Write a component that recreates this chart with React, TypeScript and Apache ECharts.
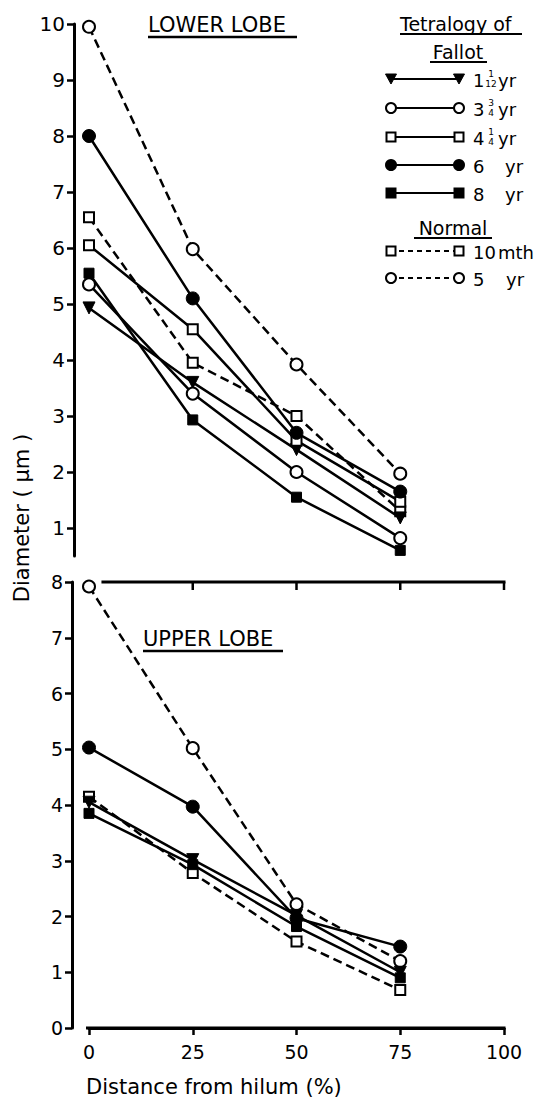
import React, { useEffect, useRef } from "react";
import * as echarts from "echarts";

// Distance from hilum (%)
const distances = [0, 25, 50, 75];
const xTicks = [0, 25, 50, 75, 100];
const panelTopTicks = [25, 50, 75, 100];

// LOWER LOBE diameters (μm)
const lowerF1 = [4.93, 3.6, 2.4, 1.18]; // Tetralogy 1 1/12 yr
const lowerF3 = [5.35, 3.4, 2.0, 0.82]; // 3 3/4 yr
const lowerF4 = [6.05, 4.55, 2.56, 1.47]; // 4 1/4 yr
const lowerF6 = [8.0, 5.1, 2.7, 1.65]; // 6 yr
const lowerF8 = [5.55, 2.93, 1.55, 0.6]; // 8 yr
const lowerN10 = [6.55, 3.95, 3.0, 1.3]; // Normal 10 mth
const lowerN5 = [9.95, 5.98, 3.92, 1.97]; // Normal 5 yr

// UPPER LOBE diameters (μm)
const upperF1 = [4.05, 3.02, 2.02, 1.0];
const upperF6 = [5.03, 3.97, 1.97, 1.46];
const upperF8 = [3.85, 2.93, 1.82, 0.9];
const upperN10 = [4.15, 2.78, 1.55, 0.68];
const upperN5 = [7.92, 5.02, 2.22, 1.2];

const lowerTicks = [1, 2, 3, 4, 5, 6, 7, 8, 9, 10];
const upperMax = 8;

const FONT = "DejaVu Sans";

type Sym = "triDown" | "circle" | "rect";

const styleOf = (sym: Sym, filled: boolean, dashed: boolean) => ({ sym, filled, dashed });
const STY = {
  f1: styleOf("triDown", true, false),
  f3: styleOf("circle", false, false),
  f4: styleOf("rect", false, false),
  f6: styleOf("circle", true, false),
  f8: styleOf("rect", true, false),
  n10: styleOf("rect", false, true),
  n5: styleOf("circle", false, true),
};

function mkSeries(name: string, panel: number, vals: number[], st: { sym: Sym; filled: boolean; dashed: boolean }) {
  const size = st.sym === "circle" ? (st.filled ? 13 : 12) : st.sym === "rect" ? 10 : 12;
  return {
    name,
    type: "line",
    xAxisIndex: panel,
    yAxisIndex: panel,
    data: vals.map((v, i) => [distances[i], v]),
    symbol: st.sym === "triDown" ? "triangle" : st.sym,
    symbolRotate: st.sym === "triDown" ? 180 : 0,
    symbolSize: size,
    showSymbol: true,
    lineStyle: { color: "#000", width: 2.5, type: st.dashed ? [9, 5] : "solid" },
    itemStyle: st.filled
      ? { color: "#000", borderColor: "#000", borderWidth: 1 }
      : { color: "#fff", borderColor: "#000", borderWidth: 2 },
    emphasis: { disabled: true },
    z: 3,
  };
}

const legendRows = [
  { st: STY.f1, y: 79, whole: "1", num: "1", den: "12", unit: "yr", unitX: 498 },
  { st: STY.f3, y: 108, whole: "3", num: "3", den: "4", unit: "yr", unitX: 498 },
  { st: STY.f4, y: 137, whole: "4", num: "1", den: "4", unit: "yr", unitX: 498 },
  { st: STY.f6, y: 165, whole: "6", unit: "yr", unitX: 505 },
  { st: STY.f8, y: 193, whole: "8", unit: "yr", unitX: 505 },
  { st: STY.n10, y: 251, whole: "10", unit: "mth", unitX: 498 },
  { st: STY.n5, y: 278, whole: "5", unit: "yr", unitX: 506 },
];

function symbolGraphic(sym: Sym, filled: boolean, cx: number, cy: number) {
  const fill = filled ? "#000" : "#fff";
  if (sym === "circle") {
    return { type: "circle", shape: { cx, cy, r: 5 }, style: { fill, stroke: "#000", lineWidth: 2 }, z: 10 };
  }
  if (sym === "rect") {
    return { type: "rect", shape: { x: cx - 4.5, y: cy - 4.5, width: 9, height: 9 }, style: { fill, stroke: "#000", lineWidth: 2 }, z: 10 };
  }
  return {
    type: "polygon",
    shape: { points: [[cx - 5.5, cy - 5], [cx + 5.5, cy - 5], [cx, cy + 5]] },
    style: { fill: "#000", stroke: "#000", lineWidth: 1 },
    z: 10,
  };
}

function txt(x: number, y: number, text: string, size: number, align = "left", extra: any = {}) {
  return {
    type: "text",
    x,
    y,
    style: { text, fill: "#000", fontSize: size, fontFamily: FONT, align, verticalAlign: "middle" },
    z: 10,
    ...extra,
  };
}

function hline(x1: number, x2: number, y: number, w = 2, dash: any = null) {
  return {
    type: "line",
    shape: { x1, y1: y, x2, y2: y },
    style: { stroke: "#000", lineWidth: w, lineDash: dash },
    z: 9,
  };
}

function bar(x: number, y: number, w: number, h: number) {
  return { type: "rect", shape: { x, y, width: w, height: h }, style: { fill: "#000" }, z: 12 };
}

function buildGraphics() {
  const els: any[] = [];
  // panel titles
  els.push(txt(148, 25, "LOWER LOBE", 21));
  els.push(hline(148, 297, 37, 2.5));
  els.push(txt(143, 639, "UPPER LOBE", 21));
  els.push(hline(143, 283, 651, 2.5));
  // axis titles
  els.push(txt(22, 518, "Diameter ( μm )", 21, "center", { rotation: Math.PI / 2 }));
  els.push(txt(86, 1087, "Distance from hilum (%)", 21));
  // legend headers
  els.push(txt(400, 24, "Tetralogy of", 19));
  els.push(hline(400, 522, 34, 2));
  els.push(txt(458, 52, "Fallot", 19, "center"));
  els.push(hline(430, 487, 62, 2));
  els.push(txt(453, 228, "Normal", 19, "center"));
  els.push(hline(414, 492, 238, 2));
  // legend rows
  legendRows.forEach((r: any) => {
    els.push(hline(390, 460, r.y, 2, r.st.dashed ? [5, 4] : null));
    els.push(symbolGraphic(r.st.sym, r.st.filled, 391, r.y));
    els.push(symbolGraphic(r.st.sym, r.st.filled, 459, r.y));
    els.push(txt(473, r.y + 1, r.whole, 18));
    if (r.num) {
      els.push(txt(491, r.y - 5, r.num, 9, "center"));
      els.push(txt(491, r.y + 5, r.den, 9, "center"));
    }
    els.push(txt(r.unitX, r.y + 1, r.unit, 18));
  });
  return els;
}

const mkAxisLine = () => ({ show: true, onZero: false, lineStyle: { color: "#000", width: 3, type: "solid" as const } });
const mkTick = (extra: any = {}) => ({ show: true, length: 7, lineStyle: { color: "#000", width: 2.5 }, ...extra });

const GRID2_LEFT = 89;
const GRID2_TOP = 582;
const GRID2_H = 446;
const RIGHT_GAP = 34;

export default function App() {
  const ref = useRef<HTMLDivElement>(null);
  useEffect(() => {
    if (!ref.current) return;
    const chart = echarts.init(ref.current, null, { renderer: "svg" });
    const labelStyle = { color: "#000", fontSize: 19, fontFamily: FONT };
    chart.setOption({
      animation: false,
      backgroundColor: "#fff",
      grid: [
        { left: GRID2_LEFT, right: RIGHT_GAP, top: 24, height: 532 },
        { left: GRID2_LEFT, right: RIGHT_GAP, top: GRID2_TOP, height: GRID2_H },
      ],
      xAxis: [
        { gridIndex: 0, type: "value", min: 0, max: 100, show: false },
        {
          gridIndex: 1,
          type: "value",
          position: "bottom",
          min: 0,
          max: 100,
          axisLine: mkAxisLine(),
          axisTick: mkTick({ customValues: xTicks }),
          axisLabel: { ...labelStyle, margin: 14, customValues: xTicks },
          splitLine: { show: false },
        },
      ],
      yAxis: [
        {
          gridIndex: 0,
          type: "value",
          position: "left",
          min: 0.5,
          max: 10,
          offset: 15,
          axisLine: mkAxisLine(),
          axisTick: mkTick({ customValues: lowerTicks }),
          axisLabel: { ...labelStyle, fontSize: 20, margin: 9, customValues: lowerTicks },
          splitLine: { show: false },
        },
        {
          gridIndex: 1,
          type: "value",
          position: "left",
          min: 0,
          max: upperMax,
          interval: 1,
          offset: 17,
          axisLine: mkAxisLine(),
          axisTick: mkTick(),
          axisLabel: { ...labelStyle, margin: 9 },
          splitLine: { show: false },
        },
      ],
      series: [
        mkSeries("5 yr (normal)", 0, lowerN5, STY.n5),
        mkSeries("10 mth (normal)", 0, lowerN10, STY.n10),
        mkSeries("1 1/12 yr", 0, lowerF1, STY.f1),
        mkSeries("3 3/4 yr", 0, lowerF3, STY.f3),
        mkSeries("4 1/4 yr", 0, lowerF4, STY.f4),
        mkSeries("6 yr", 0, lowerF6, STY.f6),
        mkSeries("8 yr", 0, lowerF8, STY.f8),
        mkSeries("5 yr (normal)", 1, upperN5, STY.n5),
        mkSeries("10 mth (normal)", 1, upperN10, STY.n10),
        mkSeries("1 1/12 yr", 1, upperF1, STY.f1),
        mkSeries("6 yr", 1, upperF6, STY.f6),
        mkSeries("8 yr", 1, upperF8, STY.f8),
      ],
    });

    // horizontal axis frame lines, positioned through the lower grid's scales
    const W = ref.current.clientWidth || 538;
    const plotW = W - GRID2_LEFT - RIGHT_GAP;
    const px = (x: number, y: number) => {
      let p: any = null;
      try {
        p = chart.convertToPixel({ gridIndex: 1 }, [x, y]);
      } catch (e) {
        p = null;
      }
      if (!p || !Number.isFinite(p[0]) || !Number.isFinite(p[1])) {
        p = [GRID2_LEFT + (x / 100) * plotW, GRID2_TOP + GRID2_H * (1 - y / upperMax)];
      }
      return p as number[];
    };
    const axisEls: any[] = [];
    const b0 = px(0, 0);
    const b1 = px(100, 0);
    axisEls.push(bar(b0[0] - 3, b0[1] - 1.5, b1[0] - b0[0] + 4.5, 3));
    const t0 = px(3, upperMax);
    const t1 = px(100, upperMax);
    axisEls.push(bar(t0[0], t0[1] - 1.5, t1[0] - t0[0] + 1.5, 3));
    panelTopTicks.forEach((v) => {
      const p = px(v, upperMax);
      axisEls.push(bar(p[0] - 1.25, p[1], 2.5, 8));
    });
    chart.setOption({ graphic: { elements: [...buildGraphics(), ...axisEls] } });

    return () => chart.dispose();
  }, []);
  return <div ref={ref} style={{ position: "absolute", left: 0, top: 0, width: 538, height: 1099 }} />;
}
